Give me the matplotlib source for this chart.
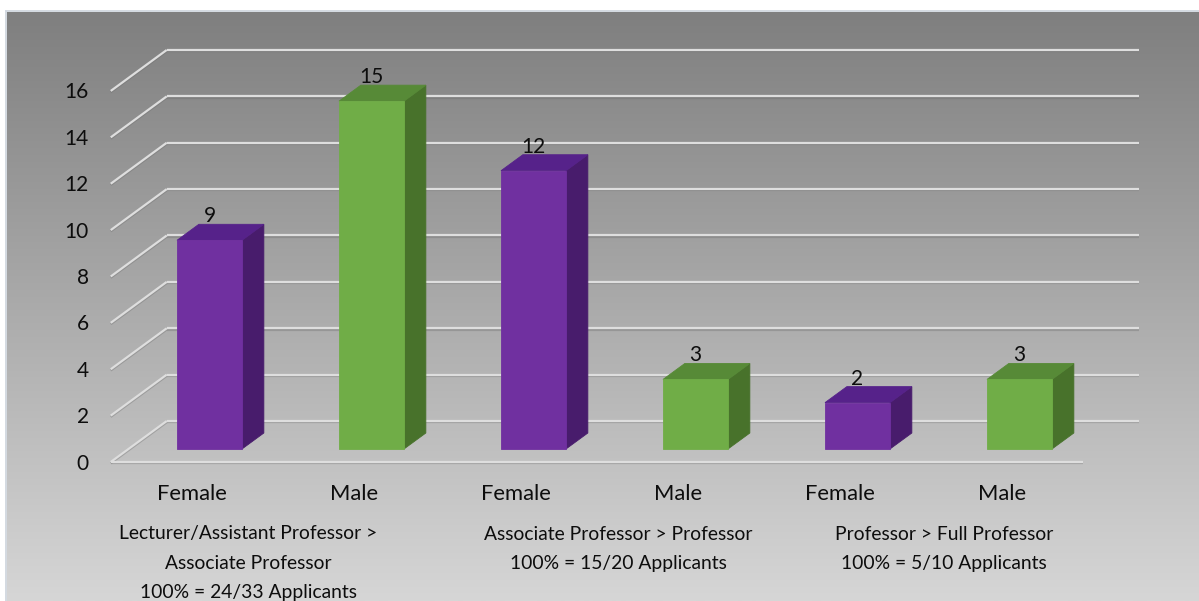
import numpy as np
import matplotlib
matplotlib.use("Agg")
import matplotlib.pyplot as plt
from matplotlib.patches import Polygon, Rectangle
from matplotlib.lines import Line2D
from matplotlib.colors import LinearSegmentedColormap

# ---- data ----
categories = ["Female", "Male", "Female", "Male", "Female", "Male"]
promoted = [9, 15, 12, 3, 2, 3]
group_labels = [
    "Lecturer/Assistant Professor >\nAssociate Professor\n100% = 24/33 Applicants",
    "Associate Professor > Professor\n100% = 15/20 Applicants",
    "Professor > Full Professor\n100% = 5/10 Applicants",
]
group_members = [(0, 1), (2, 3), (4, 5)]
y_ticks = [0, 2, 4, 6, 8, 10, 12, 14, 16]

# ---- styling ----
W, H, DPI = 1199, 601, 100
plt.rcParams["font.family"] = ["Lato", "DejaVu Sans"]

FACE = {"Female": "#7030A0", "Male": "#70AD47"}
TOP = {"Female": "#56228A", "Male": "#578A37"}
SIDE = {"Female": "#481C6C", "Male": "#48722B"}
GRID = "#dedede"
TXT = "#0d0d0d"

fig = plt.figure(figsize=(W / DPI, H / DPI), dpi=DPI, facecolor="white")

# chart area with vertical grey gradient
bg = fig.add_axes([7 / W, 0, (W - 7) / W, (H - 12) / H])
grad = np.linspace(0, 1, 256)[:, None]
bg.imshow(grad, aspect="auto", origin="upper", extent=[0, 1, 0, 1],
          cmap=LinearSegmentedColormap.from_list("bg", ["#7f7f7f", "#d6d6d6"]))
bg.set_axis_off()
fig.add_artist(Line2D([6.3 / W, 6.3 / W], [0, (H - 11.3) / H], transform=fig.transFigure,
                      color="#d3d9e1", lw=1.4))
fig.add_artist(Line2D([6.3 / W, 1], [(H - 11.3) / H, (H - 11.3) / H], transform=fig.transFigure,
                      color="#d3d9e1", lw=1.4))

# plotting plane = front faces of the bars
PX_PER_CAT = 162.0
PX_PER_UNIT = 23.19
left_px, base_px = 128.5, 449.0
ax = fig.add_axes([left_px / W, (H - base_px) / H,
                   6 * PX_PER_CAT / W, 16 * PX_PER_UNIT / H])
ax.set_xlim(-0.5, 5.5)
ax.set_ylim(0, 16)
ax.set_axis_off()
ax.patch.set_alpha(0)

px_x = ax.bbox.width / 6.0
px_y = ax.bbox.height / 16.0

# depth planes (in screen pixels along the receding axis)
K = 56.0 / 41.0
Z_FRONT, Z_BAR, Z_BAR_BACK, Z_WALL = 0.0, 13.0, 29.0, 41.0


def off(z):
    d = z - Z_BAR
    return d * K / px_x, d / px_y


fx, fy = off(Z_FRONT)
wx, wy = off(Z_WALL)
sh = -1.3 / px_y  # shadow offset under each gridline


def gridline(xs, ys, z=1):
    ax.plot(xs, [y + sh for y in ys], color="#6a6a6a", alpha=0.35, lw=1.6,
            solid_capstyle="butt", clip_on=False, zorder=z)
    ax.plot(xs, ys, color=GRID, lw=1.6, solid_capstyle="butt", clip_on=False, zorder=z + 0.1)


NUM_FS = 15
HALF_CAP = 7.5  # half of the digit height in pixels

for t in y_ticks:
    gridline([-0.5 + wx, 5.5 + wx], [t + wy, t + wy])
    gridline([-0.5 + fx, -0.5 + wx], [t + fy, t + wy])
    ax.text(-0.5 + fx - 22 / px_x, t + fy - HALF_CAP / px_y, str(t), ha="right",
            va="baseline", fontsize=NUM_FS, color=TXT)
gridline([-0.5 + fx, 5.5 + fx], [fy, fy])

# bars
BAR_W = 65.0 / PX_PER_CAT
dx, dy = off(Z_BAR_BACK)
for i, (cat, v) in enumerate(zip(categories, promoted)):
    x0, x1 = i - BAR_W / 2, i + BAR_W / 2
    ax.add_patch(Polygon([(x1, 0), (x1 + dx, dy), (x1 + dx, v + dy), (x1, v)], closed=True,
                         facecolor=SIDE[cat], edgecolor=SIDE[cat], lw=0.6, clip_on=False, zorder=3))
    ax.add_patch(Polygon([(x0, v), (x1, v), (x1 + dx, v + dy), (x0 + dx, v + dy)], closed=True,
                         facecolor=TOP[cat], edgecolor=TOP[cat], lw=0.6, clip_on=False, zorder=3))
    ax.add_patch(Rectangle((x0, 0), BAR_W, v, facecolor=FACE[cat], edgecolor=FACE[cat],
                           lw=0.6, clip_on=False, zorder=4))
    ax.text(i, v + dy + 2 / px_y, str(v), ha="center", va="baseline", fontsize=NUM_FS,
            color=TXT, zorder=5)
    ax.text(i + fx, fy - (30 + HALF_CAP) / px_y, cat, ha="center", va="baseline",
            fontsize=15.8, color=TXT)

# group captions
GROUP_NUDGE_PX = [-42.5, 3.5, 5.5]
for label, (a, b), nudge in zip(group_labels, group_members, GROUP_NUDGE_PX):
    ax.text((a + b) / 2 + nudge / px_x, fy - 63.5 / px_y, label, ha="center", va="top",
            fontsize=13.9, linespacing=1.88, color=TXT)

fig.savefig("out.png", dpi=DPI, facecolor="white")
